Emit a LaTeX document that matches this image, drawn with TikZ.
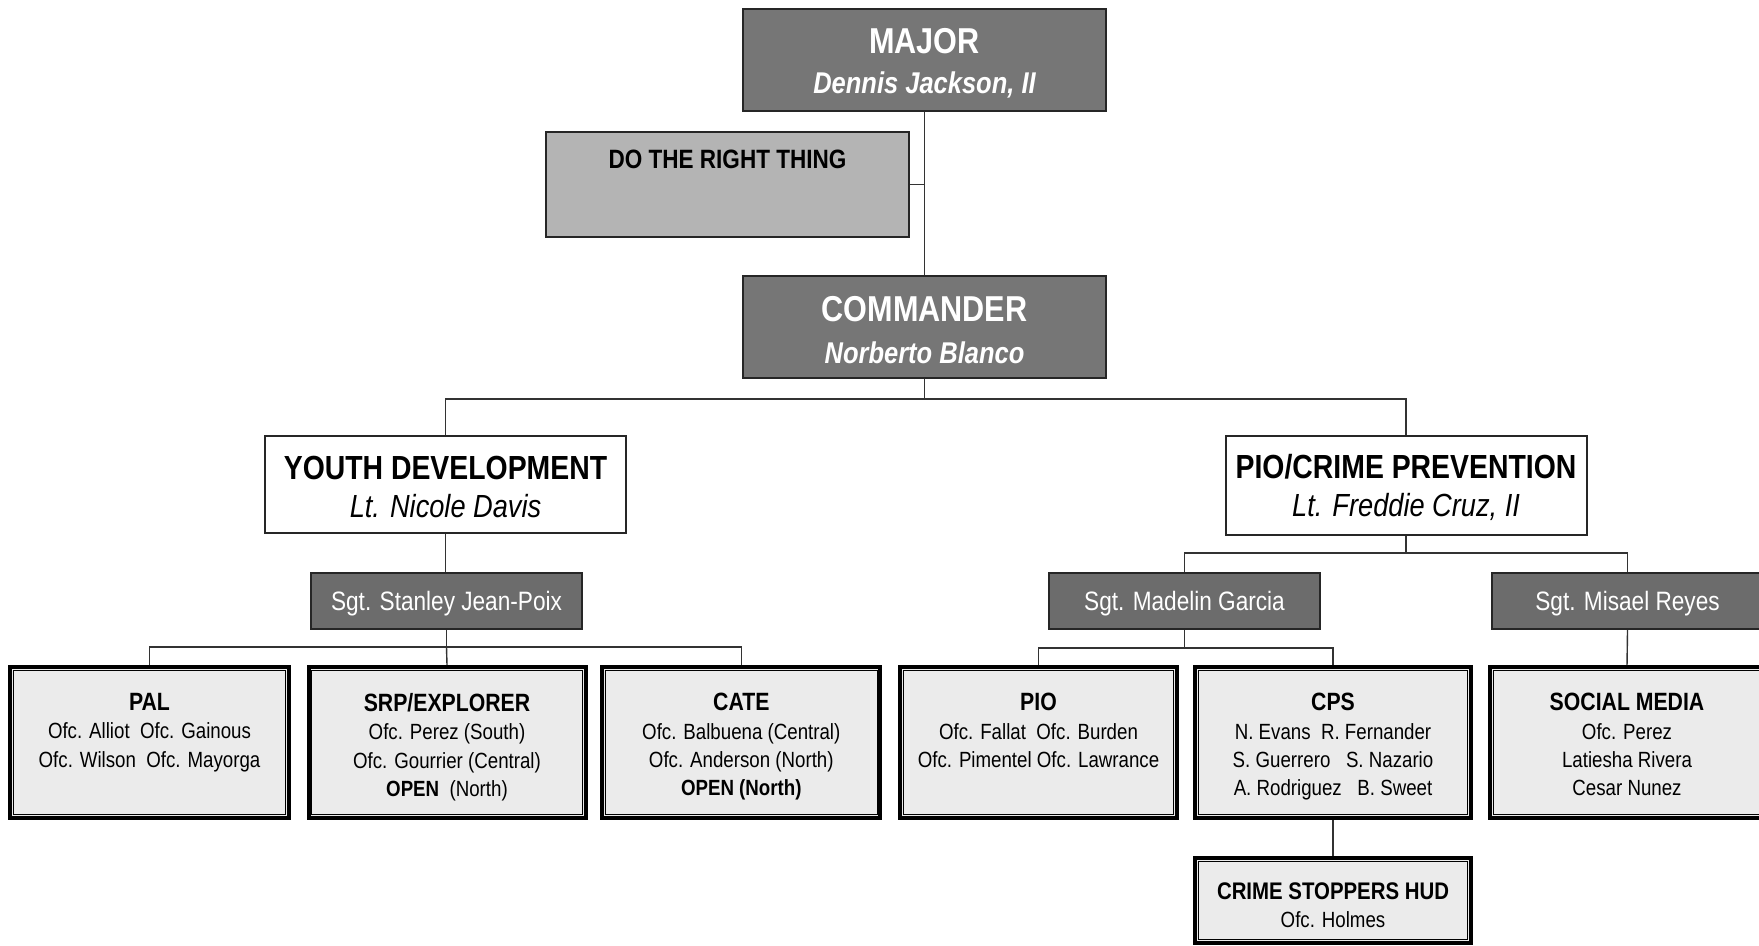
\documentclass[tikz,border=0pt]{standalone}
\usepackage{fontspec}
\setmainfont{Liberation Sans}[FakeStretch=0.85]
\definecolor{darkfill}{HTML}{767676}
\definecolor{sgtfill}{HTML}{6C6C6C}
\definecolor{midfill}{HTML}{B4B4B4}
\definecolor{leaffill}{HTML}{EBEBEB}
\definecolor{edge}{HTML}{262626}
\newcommand\myfs[2]{\fontsize{#1}{#2}\selectfont}
\newcommand\topstrut[1]{\rule{0pt}{#1}}
\begin{document}
\begin{tikzpicture}[x=0.5pt,y=-0.5pt,
  conn/.style={draw=black!80, line width=0.7pt},
  topbox/.style={draw=edge, line width=1.4pt, fill=darkfill, text=white, align=center,
    minimum width=181.5pt, minimum height=51pt, inner sep=0pt},
  midbox/.style={draw=edge, line width=1.4pt, fill=midfill,
    minimum width=181.5pt, minimum height=52.5pt, inner sep=0pt},
  unitbox/.style={draw=edge, line width=1pt, fill=white, align=center,
    minimum width=180.5pt, minimum height=48.5pt, inner sep=0pt, font=\myfs{16}{19}},
  sgtbox/.style={draw=edge, line width=1.2pt, fill=sgtfill, text=white,
    minimum width=135.5pt, minimum height=28pt, inner sep=0pt, text depth=0pt,
    font=\myfs{13.3}{16}},
  leafbox/.style={draw=black, line width=2pt, fill=leaffill,
    minimum width=138.5pt, minimum height=75.5pt, inner sep=0pt},
  leaftext/.style={align=center, inner sep=0pt, anchor=north, font=\myfs{11}{14.2}}
]
\useasboundingbox (0,0) rectangle (1759,946);
\clip (0,0) rectangle (1759,946);
\fill[white] (0,0) rectangle (1759,946);

% top levels
\node[topbox, font=\myfs{15}{20.2}] (major) at (924.5,60)
  {\topstrut{15.8pt}\myfs{18}{20.2}\bfseries MAJOR\\\myfs{15}{20.2}\bfseries\itshape Dennis Jackson, II};
\node[midbox] (dtrt) at (727.5,184.5) {};
\node[inner sep=0pt, anchor=north, font=\myfs{13.25}{15}\bfseries] (dtrt-t)
  at ([yshift=-9.25pt]dtrt.north) {DO THE RIGHT THING};
\node[topbox, font=\myfs{15}{21.3}] (cmdr) at (924.5,327)
  {\topstrut{15.8pt}\myfs{18}{21.3}\bfseries COMMANDER\\\myfs{15}{21.3}\bfseries\itshape Norberto Blanco};

\node[unitbox] (yd) at (445.5,484.5)
  {\topstrut{14.2pt}\myfs{16.7}{19}\bfseries YOUTH DEVELOPMENT\\\myfs{16}{19}\itshape Lt. Nicole Davis};
\node[unitbox, minimum height=49.5pt] (pcp) at (1406,485.5)
  {\topstrut{14.2pt}\myfs{16.7}{19}\bfseries PIO/CRIME PREVENTION\\\myfs{16}{19}\itshape Lt. Freddie Cruz, II};

% sergeants
\node[sgtbox] (sgt1) at (446.5,601) {Sgt. Stanley Jean-Poix};
\node[sgtbox] (sgt2) at (1184.5,601) {Sgt. Madelin Garcia};
\node[sgtbox] (sgt3) at (1627.5,601) {Sgt. Misael Reyes};

% leaf boxes
\node[leafbox, minimum width=139.5pt] (pal) at (149.5,742.5) {};
\node[leafbox] (srp) at (447,742.5) {};
\node[leafbox, minimum width=139pt] (cate) at (741.3,742.5) {};
\node[leafbox] (pio) at (1038.5,742.5) {};
\node[leafbox, minimum width=138pt] (cps) at (1333,742.5) {};
\node[leafbox, minimum width=137pt] (sm) at (1627,742.5) {};
\node[leafbox, minimum width=138pt, minimum height=42.5pt] (csh) at (1333,900.5) {};

\foreach \n in {pal,srp,cate,pio,cps,sm,csh}{
  \draw[black, line width=0.6pt] ([shift={(2.6pt,-2.6pt)}]\n.north west) rectangle ([shift={(-2.6pt,2.6pt)}]\n.south east);
}

\node[leaftext] (pal-t) at ([yshift=-13.9pt]pal.north)
  {{\myfs{12.5}{14}\bfseries PAL}\\Ofc. Alliot~ Ofc. Gainous\\Ofc. Wilson~ Ofc. Mayorga};
\node[leaftext] (srp-t) at ([yshift=-13.9pt]srp.north)
  {{\myfs{12.5}{14}\bfseries SRP/EXPLORER}\\Ofc. Perez (South)\\Ofc. Gourrier (Central)\\\textbf{OPEN}~ (North)};
\node[leaftext] (cate-t) at ([yshift=-13.9pt]cate.north)
  {{\myfs{12.5}{14}\bfseries CATE}\\Ofc. Balbuena (Central)\\Ofc. Anderson (North)\\\textbf{OPEN (North)}};
\node[leaftext] (pio-t) at ([yshift=-13.9pt]pio.north)
  {{\myfs{12.5}{14}\bfseries PIO}\\Ofc. Fallat~ Ofc. Burden\\Ofc. Pimentel Ofc. Lawrance};
\node[leaftext] (cps-t) at ([yshift=-13.9pt]cps.north)
  {{\myfs{12.5}{14}\bfseries CPS}\\N. Evans~ R. Fernander\\S. Guerrero~~ S. Nazario\\A. Rodriguez~~ B. Sweet};
\node[leaftext] (sm-t) at ([yshift=-13.9pt]sm.north)
  {{\myfs{12.5}{14}\bfseries SOCIAL MEDIA}\\Ofc. Perez\\Latiesha Rivera\\Cesar Nunez};
\node[leaftext] (csh-t) at ([yshift=-13pt]csh.north)
  {{\myfs{12}{14}\bfseries CRIME STOPPERS HUD}\\Ofc. Holmes};

% connectors
\coordinate (b1) at (924.5,399);
\coordinate (b2) at (446.5,647);
\coordinate (b3) at (1406,553);
\coordinate (b4) at (1184.5,648);

\draw[conn] (major.south) -- (cmdr.north);
\draw[conn] (dtrt.east) -- (dtrt.east -| major.south);
\draw[conn] (cmdr.south) -- (b1);
\draw[conn] (yd.north) |- (b1) -| (pcp.north);
\draw[conn] (yd.south) -- (yd.south |- sgt1.north);
\draw[conn] (sgt1.south) -- (b2);
\draw[conn] (pal.north) |- (b2) -| (cate.north);
\draw[conn] (b2) -- (srp.north);
\draw[conn] (pcp.south) -- (b3);
\draw[conn] (sgt2.north) |- (b3) -| (sgt3.north);
\draw[conn] (sgt2.south) -- (b4);
\draw[conn] (pio.north) |- (b4) -| (cps.north);
\draw[conn] (sgt3.south) -- (sm.north);
\draw[conn] (cps.south) -- (csh.north);
\end{tikzpicture}
\end{document}
